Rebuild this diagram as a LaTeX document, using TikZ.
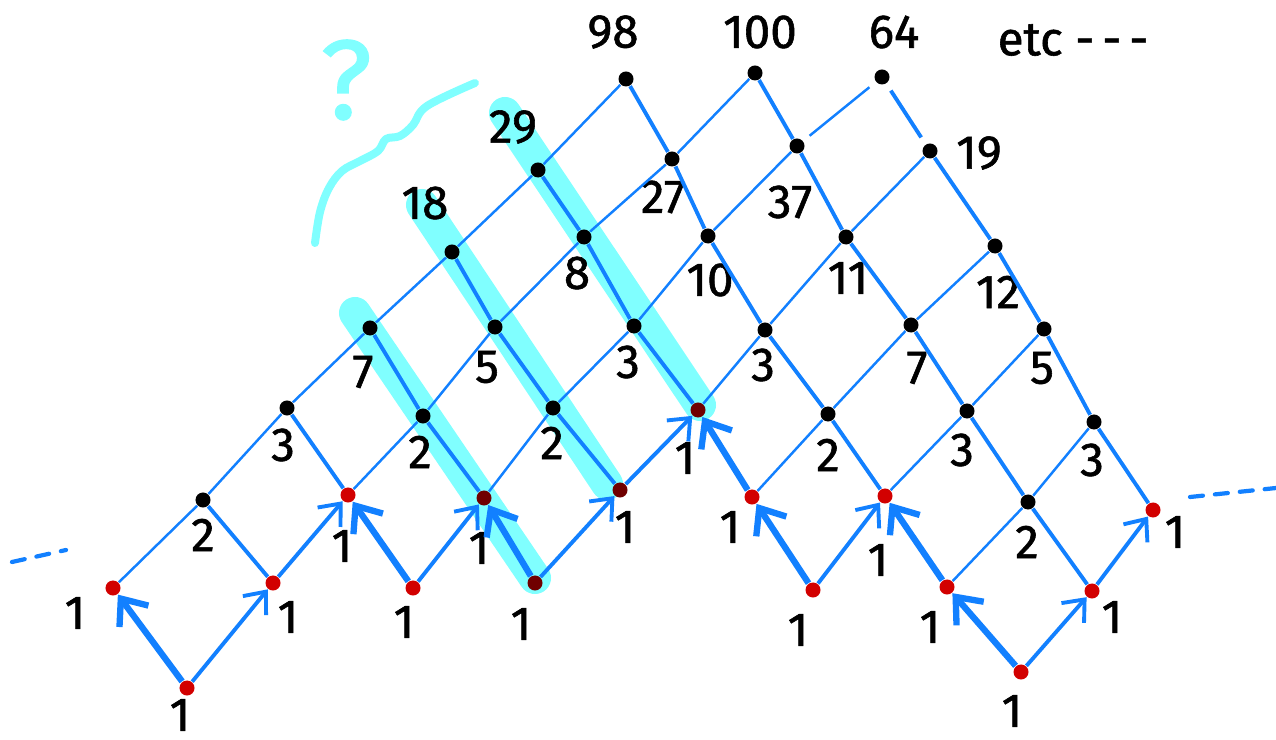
\documentclass[tikz,border=0pt]{standalone}
\usepackage{fontspec}
\setmainfont{Fira Sans}
\newfontfamily\penfont{Fira Sans}[FakeBold=1.2]
\usepackage{tikz}
\usetikzlibrary{arrows.meta}
\usepackage{xcolor}

\definecolor{penblue}{RGB}{18,128,255}
\definecolor{penred}{RGB}{210,0,0}
\definecolor{deepred}{RGB}{112,0,0}
\definecolor{hlcyan}{RGB}{128,255,255}

\tikzset{
  dot/.style={circle, fill=black, inner sep=0pt, minimum size=1.5mm},
  reddot/.style={dot, fill=penred},
  hotdot/.style={dot, fill=deepred},
  num/.style={font=\penfont\fontsize{13.5}{15}\selectfont, inner sep=0pt},
  rise/.style={draw=penblue, line width=0.7pt, shorten <=0.8mm, shorten >=0.8mm},
  fall/.style={draw=penblue, line width=1.1pt, shorten <=0.8mm, shorten >=0.8mm},
  bigarrow/.style={draw=penblue, line width=1.8pt, -{Straight Barb[length=2.2mm,width=3.6mm]}},
  smallarrow/.style={draw=penblue, line width=1.1pt, -{Straight Barb[length=1.8mm,width=3mm]}},
  hilite/.style={draw=hlcyan, line width=3.2mm, line cap=round},
  squiggle/.style={draw=hlcyan, line width=0.8mm, line cap=round, line join=round},
  trail/.style={draw=penblue, line width=1.2pt, line cap=round, dash pattern=on 1.3mm off 1.2mm}
}

\begin{document}
\begin{tikzpicture}[x=0.01cm, y=-0.01cm]
\useasboundingbox (0,0) rectangle (1276,740);

% highlighted diagonals
\draw[hilite] (355,313) -- (535,578);
\draw[hilite] (422,205) -- (607,484);
\draw[hilite] (505,113) -- (700,405);

% question and brace
\node[num, font=\penfont\fontsize{32}{34}\selectfont, text=hlcyan] (qmark) at (346,80) {?};
\draw[squiggle] plot[smooth, tension=0.6] coordinates {(475,83) (427,106) (413,125) (400,136) (386,139) (378,151) (360,161) (342,171) (329,188) (320,212) (315,243)};

% row a
\node[reddot] (a1) at (187,688) {};
\node[reddot] (a13) at (1021,672) {};
% row b
\node[reddot] (b0) at (113,588) {};
\node[reddot] (b2) at (273,583) {};
\node[reddot] (b4) at (413,588) {};
\node[hotdot] (b6) at (535,583) {};
\node[reddot] (b10) at (813,590) {};
\node[reddot] (b12) at (947,587) {};
\node[reddot] (b14) at (1092,591) {};
% row c
\node[dot] (c1) at (203,500) {};
\node[reddot] (c3) at (348,495) {};
\node[hotdot] (c5) at (484,498) {};
\node[hotdot] (c7) at (620,490) {};
\node[reddot] (c9) at (752,497) {};
\node[reddot] (c11) at (885,496) {};
\node[dot] (c13) at (1028,502) {};
\node[reddot] (c15) at (1153,510) {};
% row d
\node[dot] (d2) at (287,408) {};
\node[dot] (d4) at (423,416) {};
\node[dot] (d6) at (553,408) {};
\node[hotdot] (d8) at (698,410) {};
\node[dot] (d10) at (828,414) {};
\node[dot] (d12) at (967,411) {};
\node[dot] (d14) at (1094,422) {};
% row e
\node[dot] (e3) at (370,328) {};
\node[dot] (e5) at (495,327) {};
\node[dot] (e7) at (634,326) {};
\node[dot] (e9) at (765,330) {};
\node[dot] (e11) at (911,325) {};
\node[dot] (e13) at (1044,329) {};
% row f
\node[dot] (f4) at (452,252) {};
\node[dot] (f6) at (584,237) {};
\node[dot] (f8) at (708,236) {};
\node[dot] (f10) at (846,237) {};
\node[dot] (f12) at (995,246) {};
% row g
\node[dot] (g5) at (538,170) {};
\node[dot] (g7) at (672,159) {};
\node[dot] (g9) at (797,146) {};
\node[dot] (g11) at (930,151) {};
% row h
\node[dot] (h6) at (626,79) {};
\node[dot] (h8) at (755,73) {};
\node[dot] (h10) at (882,77) {};

% counts
\node[num] (la1) at (180,715) {1};
\node[num] (la13) at (1012,711) {1};
\node[num] (lb0) at (75,613) {1};
\node[num] (lb2) at (288,617) {1};
\node[num] (lb4) at (404,622) {1};
\node[num] (lb6) at (521,624) {1};
\node[num] (lb10) at (798,630) {1};
\node[num] (lb12) at (930,627) {1};
\node[num] (lb14) at (1112,617) {1};
\node[num] (lc1) at (203,535) {2};
\node[num] (lc3) at (342,546) {1};
\node[num] (lc5) at (479,548) {1};
\node[num] (lc7) at (625,527) {1};
\node[num] (lc9) at (730,527) {1};
\node[num] (lc11) at (878,560) {1};
\node[num] (lc13) at (1027,542) {2};
\node[num] (lc15) at (1175,532) {1};
\node[num] (ld2) at (283,445) {3};
\node[num] (ld4) at (420,452) {2};
\node[num] (ld6) at (552,443) {2};
\node[num] (ld8) at (685,458) {1};
\node[num] (ld10) at (828,455) {2};
\node[num] (ld12) at (962,450) {3};
\node[num] (ld14) at (1092,460) {3};
\node[num] (le3) at (363,372) {7};
\node[num] (le5) at (487,367) {5};
\node[num] (le7) at (628,362) {3};
\node[num] (le9) at (763,365) {3};
\node[num] (le11) at (917,368) {7};
\node[num] (le13) at (1042,368) {5};
\node[num] (lf4) at (425,203) {18};
\node[num] (lf6) at (577,273) {8};
\node[num] (lf8) at (710,280) {10};
\node[num] (lf10) at (848,278) {11};
\node[num] (lf12) at (998,292) {12};
\node[num] (lg5) at (513,127) {29};
\node[num] (lg7) at (663,197) {27};
\node[num] (lg9) at (790,202) {37};
\node[num] (lg11) at (979,153) {19};
\node[num] (lh6) at (613,32) {98};
\node[num] (lh8) at (760,32) {100};
\node[num] (lh10) at (894,32) {64};
\node[num, anchor=west] (etc) at (997,40) {etc -\,-\,-};

% lattice lines
\draw[rise] (b0) -- (c1) (b12) -- (c13)
  (c1) -- (d2) (c3) -- (d4) (c5) -- (d6) (c9) -- (d10) (c11) -- (d12) (c13) -- (d14)
  (d2) -- (e3) (d4) -- (e5) (d6) -- (e7) (d8) -- (e9) (d10) -- (e11) (d12) -- (e13)
  (e3) -- (f4) (e5) -- (f6) (e7) -- (f8) (e9) -- (f10) (e11) -- (f12)
  (f4) -- (g5) (f6) -- (g7) (f8) -- (g9) (f10) -- (g11)
  (g5) -- (h6) (g7) -- (h8) (g9) -- (h10);
\draw[fall] (b2) -- (c1) (b14) -- (c13)
  (c3) -- (d2) (c5) -- (d4) (c7) -- (d6) (c11) -- (d10) (c13) -- (d12) (c15) -- (d14)
  (d4) -- (e3) (d6) -- (e5) (d8) -- (e7) (d10) -- (e9) (d12) -- (e11) (d14) -- (e13)
  (e5) -- (f4) (e7) -- (f6) (e9) -- (f8) (e11) -- (f10) (e13) -- (f12)
  (f6) -- (g5) (f8) -- (g7) (f10) -- (g9) (f12) -- (g11)
  (g7) -- (h6) (g9) -- (h8) (g11) -- (h10);

% paths of ones
\draw[bigarrow] (a1) -- (b0);
\draw[bigarrow] (b4) -- (c3);
\draw[bigarrow] (b6) -- (c5);
\draw[bigarrow] (c9) -- (d8);
\draw[bigarrow] (b10) -- (c9);
\draw[bigarrow] (b12) -- (c11);
\draw[bigarrow] (a13) -- (b12);
\draw[smallarrow] (a1) -- (b2);
\draw[smallarrow] (b2) -- (c3);
\draw[smallarrow] (b4) -- (c5);
\draw[smallarrow] (b6) -- (c7);
\draw[smallarrow] (c7) -- (d8);
\draw[smallarrow] (b10) -- (c11);
\draw[smallarrow] (a13) -- (b14);
\draw[smallarrow] (b14) -- (c15);

% trailing dashes
\draw[trail] (12,562) -- (66,550);
\draw[trail] (1190,497) -- (1276,488);
\end{tikzpicture}
\end{document}
